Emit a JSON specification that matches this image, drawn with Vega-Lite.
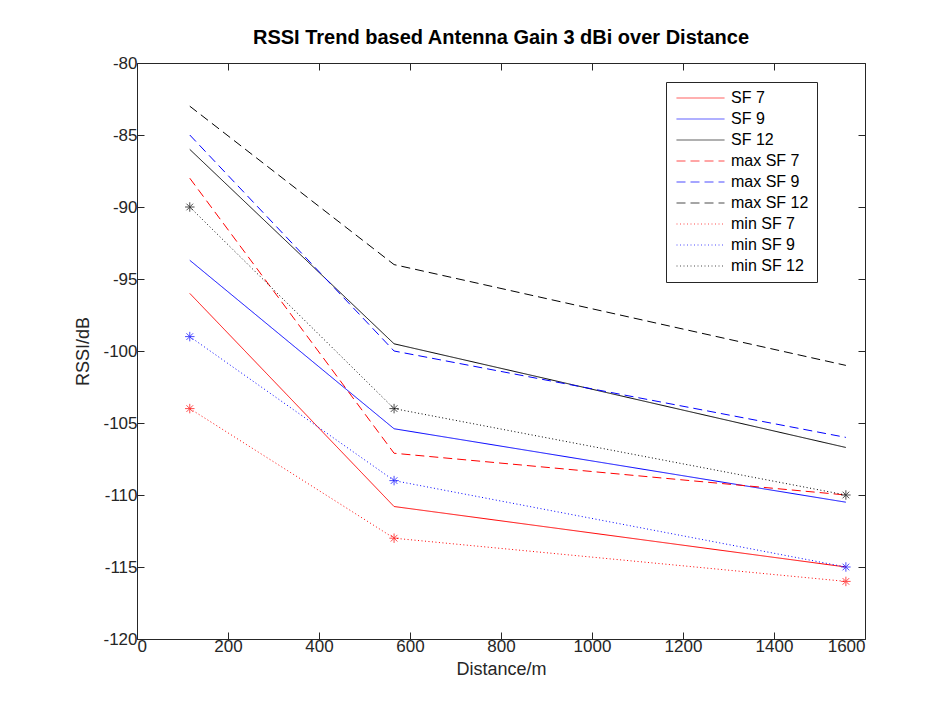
{
  "$schema": "https://vega.github.io/schema/vega-lite/v6.json",
  "width": 728,
  "height": 576,
  "autosize": {"type": "none"},
  "padding": {"left": 137, "top": 63, "right": 85, "bottom": 76},
  "background": "white",
  "title": {
    "text": "RSSI Trend based Antenna Gain 3 dBi over Distance",
    "fontSize": 20,
    "fontWeight": "bold",
    "font": "Liberation Sans",
    "color": "#000000",
    "offset": 6
  },
  "config": {
    "view": {"stroke": "#262626", "strokeWidth": 1},
    "axis": {
      "grid": false,
      "domain": false,
      "tickSize": -7,
      "tickColor": "#262626",
      "labelFont": "Liberation Sans",
      "labelFontSize": 17,
      "labelColor": "#262626",
      "labelExpr": "'' + datum.value",
      "titleFont": "Liberation Sans",
      "titleFontSize": 18,
      "titleFontWeight": "normal",
      "titleColor": "#262626"
    },
    "legend": {
      "labelFont": "Liberation Sans",
      "labelFontSize": 16,
      "labelColor": "#000000"
    }
  },
  "data": {
    "values": [
      {"series": "SF 7", "distance": 116, "rssi": -96},
      {"series": "SF 7", "distance": 565, "rssi": -110.8},
      {"series": "SF 7", "distance": 1558, "rssi": -115},
      {"series": "SF 9", "distance": 116, "rssi": -93.7},
      {"series": "SF 9", "distance": 565, "rssi": -105.4},
      {"series": "SF 9", "distance": 1558, "rssi": -110.5},
      {"series": "SF 12", "distance": 116, "rssi": -86},
      {"series": "SF 12", "distance": 565, "rssi": -99.5},
      {"series": "SF 12", "distance": 1558, "rssi": -106.7},
      {"series": "max SF 7", "distance": 116, "rssi": -88},
      {"series": "max SF 7", "distance": 565, "rssi": -107.1},
      {"series": "max SF 7", "distance": 1558, "rssi": -110},
      {"series": "max SF 9", "distance": 116, "rssi": -85},
      {"series": "max SF 9", "distance": 565, "rssi": -100},
      {"series": "max SF 9", "distance": 1558, "rssi": -106},
      {"series": "max SF 12", "distance": 116, "rssi": -83},
      {"series": "max SF 12", "distance": 565, "rssi": -94},
      {"series": "max SF 12", "distance": 1558, "rssi": -101},
      {"series": "min SF 7", "distance": 116, "rssi": -104},
      {"series": "min SF 7", "distance": 565, "rssi": -113},
      {"series": "min SF 7", "distance": 1558, "rssi": -116},
      {"series": "min SF 9", "distance": 116, "rssi": -99},
      {"series": "min SF 9", "distance": 565, "rssi": -109},
      {"series": "min SF 9", "distance": 1558, "rssi": -115},
      {"series": "min SF 12", "distance": 116, "rssi": -90},
      {"series": "min SF 12", "distance": 565, "rssi": -104},
      {"series": "min SF 12", "distance": 1558, "rssi": -110}
    ]
  },
  "resolve": {"axis": {"x": "independent", "y": "independent"}},
  "layer": [
    {
      "mark": {"type": "line", "strokeWidth": 1},
      "encoding": {
        "x": {
          "field": "distance", "type": "quantitative",
          "scale": {"domain": [0, 1600], "nice": false},
          "axis": {"values": [0, 200, 400, 600, 800, 1000, 1200, 1400, 1600], "title": "Distance/m", "labelPadding": 6, "titlePadding": 6, "orient": "bottom"}
        },
        "y": {
          "field": "rssi", "type": "quantitative",
          "scale": {"domain": [-120, -80], "nice": false, "zero": false},
          "axis": {"values": [-120, -115, -110, -105, -100, -95, -90, -85, -80], "title": "RSSI/dB", "labelPadding": 7, "titlePadding": 10, "orient": "left"}
        },
        "color": {
          "field": "series", "type": "nominal",
          "scale": {
            "domain": ["SF 7", "SF 9", "SF 12", "max SF 7", "max SF 9", "max SF 12", "min SF 7", "min SF 9", "min SF 12"],
            "range": ["#ff0000", "#0000ff", "#000000", "#ff0000", "#0000ff", "#000000", "#ff0000", "#0000ff", "#000000"]
          },
          "legend": {
            "title": null,
            "orient": "none",
            "legendX": 529,
            "legendY": 19,
            "symbolType": "M-1.1,0L8.5,0",
            "symbolSize": 100,
            "symbolStrokeWidth": 1,
            "symbolFillColor": "transparent",
            "rowPadding": 5,
            "padding": 8,
            "fillColor": "white",
            "strokeColor": "#262626",
            "labelOffset": 41
          }
        },
        "strokeDash": {
          "field": "series", "type": "nominal",
          "scale": {
            "domain": ["SF 7", "SF 9", "SF 12", "max SF 7", "max SF 9", "max SF 12", "min SF 7", "min SF 9", "min SF 12"],
            "range": [[1, 0], [1, 0], [1, 0], [9, 5], [9, 5], [9, 5], [1, 2.5], [1, 2.5], [1, 2.5]]
          },
          "legend": {
            "title": null,
            "orient": "none",
            "legendX": 529,
            "legendY": 19,
            "symbolType": "M-1.1,0L8.5,0",
            "symbolSize": 100,
            "symbolStrokeWidth": 1,
            "symbolFillColor": "transparent",
            "rowPadding": 5,
            "padding": 8,
            "fillColor": "white",
            "strokeColor": "#262626",
            "labelOffset": 41
          }
        }
      }
    },
    {
      "transform": [{"filter": "indexof(datum.series, 'min') == 0"}],
      "mark": {
        "type": "point",
        "filled": false,
        "strokeWidth": 1,
        "size": 90,
        "shape": "M-1,0L1,0M0,-1L0,1M-0.7,-0.7L0.7,0.7M-0.7,0.7L0.7,-0.7"
      },
      "encoding": {
        "x": {
          "field": "distance", "type": "quantitative",
          "axis": {"orient": "top", "labels": false, "title": null, "values": [0, 200, 400, 600, 800, 1000, 1200, 1400, 1600]}
        },
        "y": {
          "field": "rssi", "type": "quantitative",
          "axis": {"orient": "right", "labels": false, "title": null, "values": [-120, -115, -110, -105, -100, -95, -90, -85, -80]}
        },
        "color": {"field": "series", "type": "nominal"}
      }
    }
  ]
}
